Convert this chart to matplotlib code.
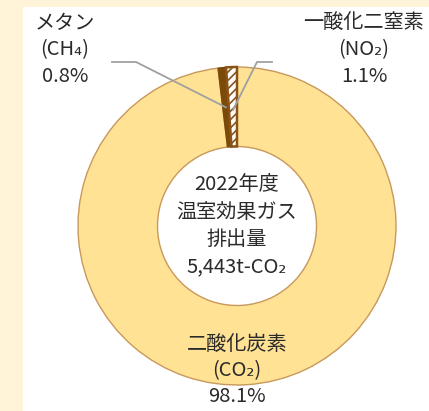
import numpy as np
import matplotlib
matplotlib.use("Agg")
import matplotlib.pyplot as plt
from matplotlib.patches import Rectangle

plt.rcParams['font.family'] = ['Noto Sans CJK JP', 'DejaVu Sans']
plt.rcParams['hatch.linewidth'] = 1.2

# --- data ---
gases = ["二酸化炭素", "メタン", "一酸化二窒素"]
formulas = ["(CO₂)", "(CH₄)", "(NO₂)"]
shares = [98.1, 0.8, 1.1]
center_lines = ["2022年度", "温室効果ガス", "排出量", "5,443t-CO₂"]

W, H = 429, 411
fig = plt.figure(figsize=(W / 100, H / 100), dpi=100, facecolor="#FFF3D8")
ax = fig.add_axes([0, 0, 1, 1])

# white panel
ax.add_patch(Rectangle((23, 0), W - 23, H - 7, facecolor="white", edgecolor="none", zorder=0))

cx, cy, R = 237, 185, 159
wedges, _ = ax.pie(shares, startangle=90, counterclock=False, radius=R, center=(cx, cy),
                   colors=["#FFE294", "#7B4A08", "white"],
                   wedgeprops=dict(width=R * 0.5, edgecolor="#C8985C", linewidth=1.0))
wedges[1].set_edgecolor("#7B4A08")
wedges[2].set_edgecolor("#8A5418")
wedges[2].set_linewidth(1.8)
wedges[2].set_hatch("////")
for w in wedges:
    w.set_zorder(2)

ax.set_xlim(0, W)
ax.set_ylim(0, H)
ax.set_aspect("equal")
ax.axis("off")

txt = "#2A2A2A"
fs = 14.5
ax.text(cx, cy, "\n".join(center_lines), ha="center", va="center", fontsize=fs,
        color=txt, linespacing=1.4, zorder=5)

# CO2 label
ax.text(cx, 40, f"{gases[0]}\n{formulas[0]}\n{shares[0]}%", ha="center", va="center",
        fontsize=fs, color=txt, linespacing=1.3, zorder=5)

# CH4 label
ax.text(65, 361, f"{gases[1]}\n{formulas[1]}\n{shares[1]}%", ha="center", va="center",
        fontsize=fs, color=txt, linespacing=1.35, zorder=5)
# N2O label
ax.text(364, 361, f"{gases[2]}\n{formulas[2]}\n{shares[2]}%", ha="center", va="center",
        fontsize=fs, color=txt, linespacing=1.35, zorder=5)

# leader lines from wedge middles
def mid_point(w, r):
    a = np.deg2rad((w.theta1 + w.theta2) / 2)
    return cx + r * np.cos(a), cy + r * np.sin(a)

x1, y1 = mid_point(wedges[1], R * 0.75)
ax.plot([112, 136, x1], [349, 349, y1], color="#A0A0A0", lw=1.3, zorder=4)
x2, y2 = mid_point(wedges[2], R * 0.73)
ax.plot([272, 257, x2], [349, 349, y2], color="#A0A0A0", lw=1.3, zorder=4)

fig.savefig("out.png", dpi=100, facecolor=fig.get_facecolor())
